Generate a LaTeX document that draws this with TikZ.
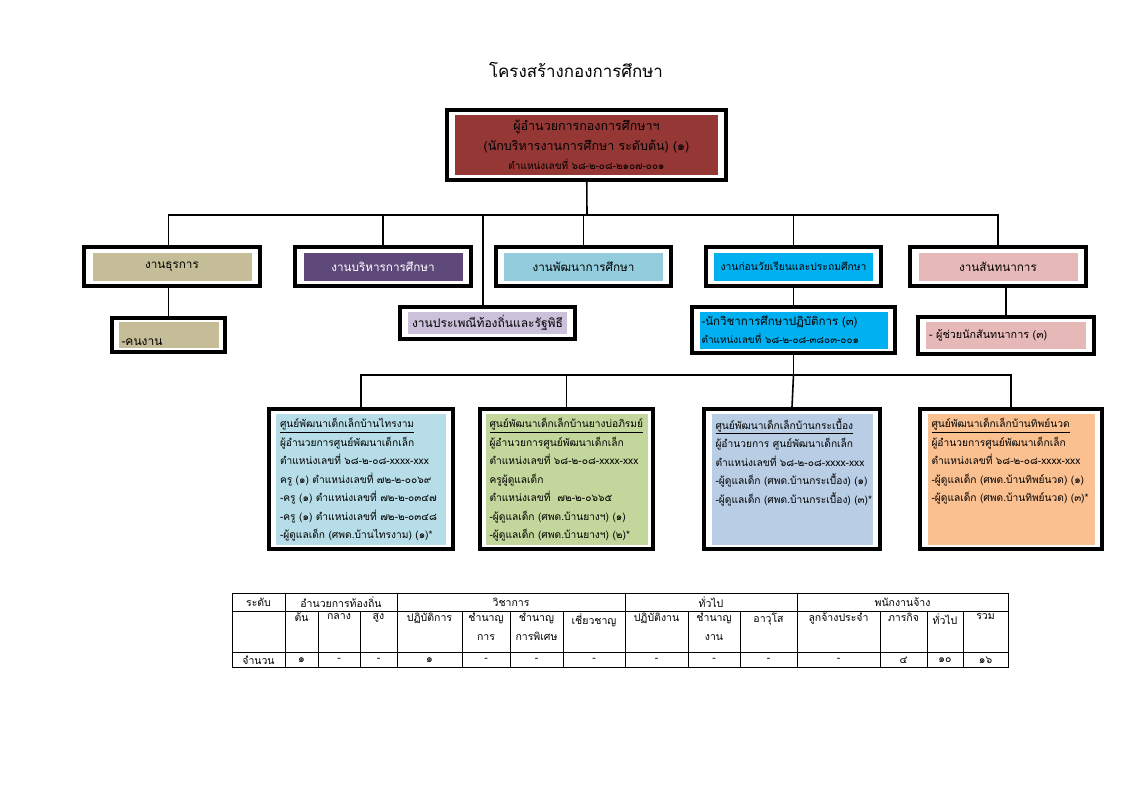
\documentclass[tikz,border=0pt]{standalone}
\usepackage{fontspec}
\setmainfont[Script=Thai]{Loma}
\definecolor{headred}{HTML}{953735}
\definecolor{khaki}{HTML}{C4BD97}
\definecolor{plum}{HTML}{5F497A}
\definecolor{aqua}{HTML}{93CDDD}
\definecolor{sky}{HTML}{00B0F0}
\definecolor{rose}{HTML}{E6B9B8}
\definecolor{lilac}{HTML}{CCC1DA}
\definecolor{iceblue}{HTML}{B7DEE8}
\definecolor{olive}{HTML}{C3D69B}
\definecolor{steel}{HTML}{B9CDE5}
\definecolor{peach}{HTML}{FAC090}

\begin{document}
\begin{tikzpicture}[x=1pt, y=-1pt,
	frame/.style = {draw, line width=4pt, fill=white, inner sep=0pt},
	panel/.style = {inner sep=2pt, font=\fontsize{11.7}{19}\selectfont},
	unit/.style = {inner sep=0pt, anchor=north west, align=left, font=\fontsize{10.2}{18.5}\selectfont},
	link/.style = {line width=1.6pt},
	cell/.style = {inner sep=0pt, align=center, font=\fontsize{10.5}{18.5}\selectfont}]
	\useasboundingbox (0,0) rectangle (1123,794);
	\node[font=\fontsize{16.9}{20}\selectfont] (title) at (576,70) {โครงสร้างกองการศึกษา};
	% head of the division
	\node[frame, minimum width=279, minimum height=70] (head) at (586.5,145) {};
	\node[panel, fill=headred, minimum width=263, minimum height=60, align=center, font=\fontsize{12.5}{19.5}\selectfont] (headtxt) at (head) {ผู้อำนวยการกองการศึกษาฯ\\(นักบริหารงานการศึกษา ระดับต้น) (๑)\\{\fontsize{10}{19.5}\selectfont ตำแหน่งเลขที่ ๖๘-๒-๐๘-๒๑๐๗-๐๐๑}};
	% sections
	\node[frame, minimum width=176, minimum height=39] (b1) at (172,266.5) {};
	\node[panel, fill=khaki, minimum width=159, minimum height=28] at (b1) {งานธุรการ};
	\node[frame, minimum width=176, minimum height=39] (b2) at (383,266.5) {};
	\node[panel, fill=plum, text=white, minimum width=159, minimum height=28] at (b2) {งานบริหารการศึกษา};
	\node[frame, minimum width=175, minimum height=39] (b3) at (583.5,266.5) {};
	\node[panel, fill=aqua, minimum width=159, minimum height=28] at (b3) {งานพัฒนาการศึกษา};
	\node[frame, minimum width=175, minimum height=39] (b4) at (793.5,266.5) {};
	\node[panel, fill=sky, minimum width=159, minimum height=28, font=\fontsize{10.3}{19}\selectfont] at (b4) {งานก่อนวัยเรียนและประถมศึกษา};
	\node[frame, minimum width=176, minimum height=39] (b5) at (998,266.5) {};
	\node[panel, fill=rose, minimum width=159, minimum height=28] at (b5) {งานสันทนาการ};
	% sub units
	\node[frame, minimum width=175, minimum height=32] (rite) at (487.5,323) {};
	\node[panel, fill=lilac, minimum width=159, minimum height=22, font=\fontsize{12}{19}\selectfont] at (rite) {งานประเพณีท้องถิ่นและรัฐพิธี};
	\node[frame, minimum width=113, minimum height=34] (janitor) at (168.5,335) {};
	\node[panel, fill=khaki, minimum width=100, minimum height=26, text width=94, align=left, font=\fontsize{12}{19}\selectfont] at (janitor) {\raisebox{-10pt}[0pt][0pt]{-คนงาน}};
	\node[frame, minimum width=203, minimum height=46] (acad) at (793.5,330) {};
	\node[panel, fill=sky, minimum width=188, minimum height=37, text width=184, align=left, font=\fontsize{11.5}{18}\selectfont] at (acad) {-นักวิชาการศึกษาปฏิบัติการ (๓)\\{\fontsize{10}{18}\selectfont ตำแหน่งเลขที่ ๖๘-๒-๐๘-๓๘๐๓-๐๐๑}};
	\node[frame, minimum width=176, minimum height=37] (assist) at (1006,335.5) {};
	\node[panel, fill=rose, minimum width=160, minimum height=27, text width=154, align=left, font=\fontsize{10.8}{19}\selectfont] at (assist) {- ผู้ช่วยนักสันทนาการ (๓)};
	% child centres
	\node[frame, minimum width=184, minimum height=140] (c1) at (361,479) {};
	\node[fill=iceblue, minimum width=170, minimum height=131, inner sep=0pt] (c1f) at (c1) {};
	\node[unit] (c1t) at ([xshift=4, yshift=-5]c1f.north west) {\underline{ศูนย์พัฒนาเด็กเล็กบ้านไทรงาม}\\ผู้อำนวยการศูนย์พัฒนาเด็กเล็ก\\ตำแหน่งเลขที่ ๖๘-๒-๐๘-xxxx-xxx\\ครู (๑) ตำแหน่งเลขที่ ๗๒-๒-๐๐๖๙\\-ครู (๑) ตำแหน่งเลขที่ ๗๒-๒-๐๓๔๗\\-ครู (๑) ตำแหน่งเลขที่ ๗๒-๒-๐๓๔๘\\-ผู้ดูแลเด็ก (ศพด.บ้านไทรงาม) (๑)*};
	\node[frame, minimum width=173, minimum height=140] (c2) at (566.5,479) {};
	\node[fill=olive, minimum width=162, minimum height=131, inner sep=0pt] (c2f) at (c2) {};
	\node[unit] (c2t) at ([xshift=4, yshift=-5]c2f.north west) {\underline{ศูนย์พัฒนาเด็กเล็กบ้านยางบ่อภิรมย์}\\ผู้อำนวยการศูนย์พัฒนาเด็กเล็ก\\ตำแหน่งเลขที่ ๖๘-๒-๐๘-xxxx-xxx\\ครูผู้ดูแลเด็ก\\ตำแหน่งเลขที่ \ ๗๒-๒-๐๖๖๕\\-ผู้ดูแลเด็ก (ศพด.บ้านยางฯ) (๑)\\-ผู้ดูแลเด็ก (ศพด.บ้านยางฯ) (๒)*};
	\node[frame, minimum width=176, minimum height=140] (c3) at (792,479) {};
	\node[fill=steel, minimum width=161, minimum height=131, inner sep=0pt] (c3f) at (c3) {};
	\node[unit] (c3t) at ([xshift=4, yshift=-5]c3f.north west) {\underline{ศูนย์พัฒนาเด็กเล็กบ้านกระเบื้อง}\\ผู้อำนวยการ ศูนย์พัฒนาเด็กเล็ก\\ตำแหน่งเลขที่ ๖๘-๒-๐๘-xxxx-xxx\\-ผู้ดูแลเด็ก (ศพด.บ้านกระเบื้อง) (๑)\\-ผู้ดูแลเด็ก (ศพด.บ้านกระเบื้อง) (๓)*};
	\node[frame, minimum width=182, minimum height=140] (c4) at (1011,479) {};
	\node[fill=peach, minimum width=167, minimum height=131, inner sep=0pt] (c4f) at (c4) {};
	\node[unit] (c4t) at ([xshift=4, yshift=-5]c4f.north west) {\underline{ศูนย์พัฒนาเด็กเล็กบ้านทิพย์นวด}\\ผู้อำนวยการศูนย์พัฒนาเด็กเล็ก\\ตำแหน่งเลขที่ ๖๘-๒-๐๘-xxxx-xxx\\-ผู้ดูแลเด็ก (ศพด.บ้านทิพย์นวด) (๑)\\-ผู้ดูแลเด็ก (ศพด.บ้านทิพย์นวด) (๓)*};
	% connectors
	\coordinate (bus) at (587,215);
	\coordinate (bus2) at (793.5,375);
	\draw[link] (head) -- (bus);
	\draw[link] (bus) -| (b1.north -| janitor);
	\draw[link] (bus) -| (b2.north);
	\draw[link] (bus) -| (b3.north);
	\draw[link] (bus) -| (b4.north);
	\draw[link] (bus) -| (b5.north);
	\draw[link] (bus) -| (rite.north -| 483,0);
	\draw[link] (b1.south -| janitor) -- (janitor);
	\draw[link] (b4) -- (acad);
	\draw[link] (b5.south -| assist) -- (assist);
	\draw[link] (acad) -- (bus2);
	\draw[link] (bus2) -| (c1.north);
	\draw[link] (bus2) -| (c2.north);
	\draw[link] (bus2) -- (c3.north);
	\draw[link] (bus2) -| (c4.north);
	% staff table
	\draw[line width=0.8pt] (232,593) rectangle (1008,667);
	\foreach \y in {611,652} \draw[line width=0.8pt] (232,\y) -- (1008,\y);
	\foreach \x in {285,397,625,797} \draw[line width=0.8pt] (\x,593) -- (\x,667);
	\foreach \x in {318,360,462,510,563,688,740,880,927,963} \draw[line width=0.8pt] (\x,611) -- (\x,667);
	\foreach \x/\t [count=\i] in {258.5/ระดับ, 341/อำนวยการท้องถิ่น, 511/วิชาการ, 711/ทั่วไป, 902.5/พนักงานจ้าง}
		\node[cell] (h\i) at (\x,602) {\t};
	\foreach \x/\t [count=\i] in {301.5/ต้น, 339/กลาง, 378.5/สูง, 429.5/ปฏิบัติการ, 486/ชำนาญ\\การ, 536.5/ชำนาญ\\การพิเศษ, 594/เชี่ยวชาญ, 656.5/ปฏิบัติงาน, 714/ชำนาญ\\งาน, 768.5/อาวุโส, 838.5/ลูกจ้างประจำ, 903.5/ภารกิจ, 945/ทั่วไป, 985.5/รวม}
		\node[cell, anchor=north] (s\i) at (\x,613) {\t};
	\foreach \x/\t [count=\i] in {258.5/จำนวน, 301.5/๑, 339/-, 378.5/-, 429.5/๑, 486/-, 536.5/-, 594/-, 656.5/-, 714/-, 768.5/-, 838.5/-, 903.5/๔, 945/๑๐, 985.5/๑๖}
		\node[cell] (n\i) at (\x,660) {\t};
\end{tikzpicture}
\end{document}
